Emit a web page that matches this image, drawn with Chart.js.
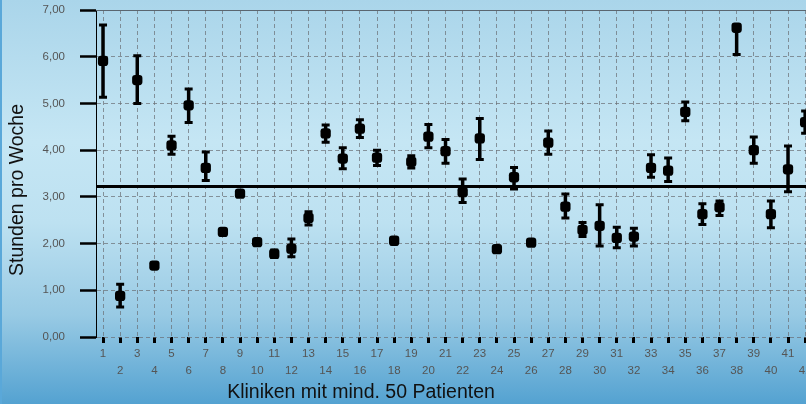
<!DOCTYPE html>
<html>
<head>
<meta charset="utf-8">
<script src="https://cdn.jsdelivr.net/npm/chart.js@4/dist/chart.umd.min.js"></script>
<style>
  html, body { margin: 0; padding: 0; overflow: hidden; }
  #wrap {
    width: 806px; height: 404px; position: relative;
    background: linear-gradient(to bottom, #aad5ea 0%, #c5e6f4 35%, #bde1f1 55%, #98cae4 78%, #54a2d1 100%);
    box-shadow: inset 2px 0 0 #5aa8d9;
  }
</style>
</head>
<body>
<div id="wrap"><canvas id="chart" width="806" height="404"></canvas></div>
<script>
// Kliniken 1..42, Mittelwert und Fehlerbalken (Stunden pro Woche)
const clinics = [1,2,3,4,5,6,7,8,9,10,11,12,13,14,15,16,17,18,19,20,21,22,23,24,25,26,27,28,29,30,31,32,33,34,35,36,37,38,39,40,41,42];
const means = [5.91,0.88,5.50,1.53,4.10,4.96,3.62,2.25,3.07,2.03,1.78,1.89,2.55,4.36,3.82,4.46,3.84,2.06,3.75,4.29,3.98,3.10,4.25,1.88,3.42,2.02,4.16,2.79,2.29,2.38,2.12,2.15,3.62,3.56,4.82,2.63,2.78,6.62,4.00,2.63,3.59,4.60];
const lower = [5.13,0.64,5.00,1.49,3.91,4.59,3.35,2.21,3.01,1.99,1.70,1.72,2.40,4.17,3.60,4.27,3.67,1.99,3.62,4.05,3.72,2.88,3.80,1.82,3.17,1.98,3.91,2.55,2.15,1.95,1.91,1.95,3.42,3.33,4.63,2.41,2.60,6.05,3.72,2.34,3.11,4.36];
const upper = [6.68,1.13,6.02,1.57,4.30,5.31,3.96,2.29,3.13,2.07,1.86,2.10,2.68,4.54,4.05,4.65,4.00,2.13,3.88,4.55,4.23,3.38,4.68,1.94,3.63,2.06,4.41,3.06,2.45,2.83,2.35,2.33,3.90,3.83,5.03,2.85,2.91,6.66,4.28,2.91,4.09,4.84];
const overallMean = 3.22;
const yTicks = [0,1,2,3,4,5,6,7];
const xTitle = 'Kliniken mit mind. 50 Patienten';
const yTitle = 'Stunden pro Woche';

const xMin = 0.59, xMax = 42.05;
const labelFont = { family: "'Liberation Sans', Arial, sans-serif", size: 11.5, lineHeight: 1.48 };

const errorBars = {
  id: 'errorBars',
  beforeDatasetsDraw(chart) {
    const { ctx, chartArea, scales: { x, y } } = chart;
    ctx.save();
    // obere Rahmenlinie
    ctx.strokeStyle = '#5a6670';
    ctx.lineWidth = 1.2;
    ctx.beginPath();
    ctx.moveTo(chartArea.left, chartArea.top + 0.5);
    ctx.lineTo(chartArea.right, chartArea.top + 0.5);
    ctx.stroke();
    ctx.strokeStyle = '#000';
    clinics.forEach((c, i) => {
      const px = x.getPixelForValue(c);
      const top = y.getPixelForValue(upper[i]);
      const bot = y.getPixelForValue(lower[i]);
      ctx.lineWidth = 3.5;
      ctx.beginPath();
      ctx.moveTo(px, top); ctx.lineTo(px, bot);
      ctx.stroke();
      ctx.lineWidth = 3;
      ctx.beginPath();
      ctx.moveTo(px - 4, top); ctx.lineTo(px + 4, top);
      ctx.moveTo(px - 4, bot); ctx.lineTo(px + 4, bot);
      ctx.stroke();
    });
    ctx.restore();
  },
  afterDraw(chart) {
    const { ctx } = chart;
    ctx.save();
    ctx.fillStyle = '#111';
    ctx.font = "19.5px 'Liberation Sans', Arial, sans-serif";
    ctx.textAlign = 'center';
    ctx.textBaseline = 'middle';
    ctx.fillText(xTitle, 361, 393);
    ctx.translate(18, 190);
    ctx.rotate(-Math.PI / 2);
    ctx.fillText(yTitle, 0, 0);
    ctx.restore();
  }
};

new Chart(document.getElementById('chart'), {
  type: 'scatter',
  data: {
    datasets: [
      {
        type: 'line',
        data: [{ x: xMin, y: overallMean }, { x: xMax, y: overallMean }],
        borderColor: '#000',
        borderWidth: 3,
        pointRadius: 0,
        clip: false,
        order: 2
      },
      {
        data: clinics.map((c, i) => ({ x: c, y: means[i] })),
        pointStyle: 'rectRounded',
        pointRadius: 6,
        backgroundColor: '#000',
        borderWidth: 0,
        clip: false,
        order: 1
      }
    ]
  },
  options: {
    responsive: false,
    animation: false,
    layout: { autoPadding: false, padding: { top: 10, left: 0, right: 0, bottom: 0 } },
    plugins: { legend: { display: false }, tooltip: { enabled: false } },
    scales: {
      x: {
        type: 'linear',
        min: xMin,
        max: xMax,
        afterBuildTicks: s => { s.ticks = clinics.map(v => ({ value: v })); },
        afterFit: s => { s.height = 67; s.paddingLeft = 0; s.paddingRight = 0; },
        grid: {
          color: 'rgba(105,110,115,0.7)',
          lineWidth: 1,
          tickColor: '#000',
          tickWidth: 3,
          tickLength: 6,
          tickBorderDash: []
        },
        border: { display: false, dash: [4, 3] },
        ticks: {
          autoSkip: false,
          maxRotation: 0,
          padding: 2,
          color: '#555',
          font: labelFont,
          callback: v => (v % 2 === 1 ? [String(v)] : ['', String(v)])
        }
      },
      y: {
        min: 0,
        max: 7,
        afterBuildTicks: s => { s.ticks = yTicks.map(v => ({ value: v })); },
        afterFit: s => { s.width = 96; s.paddingTop = 0; s.paddingBottom = 0; },
        grid: {
          color: 'rgba(105,110,115,0.7)',
          lineWidth: 1,
          tickColor: '#000',
          tickWidth: 2.5,
          tickLength: 16,
          tickBorderDash: []
        },
        border: { display: true, color: '#000', width: 1, dash: [4, 3] },
        ticks: {
          padding: 15,
          color: '#555',
          font: { family: "'Liberation Sans', Arial, sans-serif", size: 11.5 },
          callback: v => v.toFixed(2).replace('.', ',')
        }
      }
    }
  },
  plugins: [errorBars]
});
</script>
</body>
</html>
